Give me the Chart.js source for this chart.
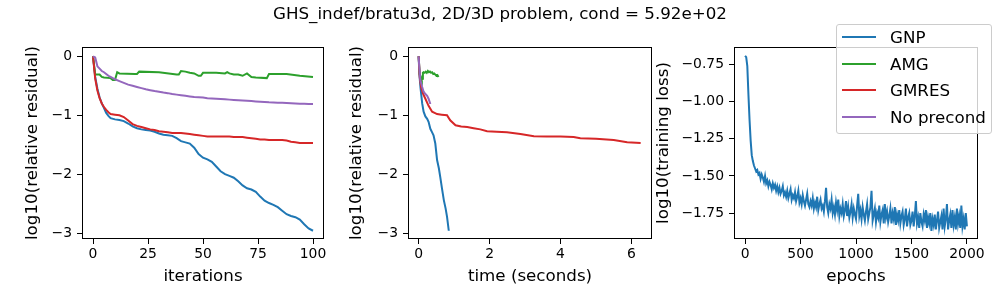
<!DOCTYPE html>
<html>
<head>
<meta charset="utf-8">
<script src="https://cdn.jsdelivr.net/npm/chart.js@4"></script>
<style>
  body { margin: 0; background: #fff; }
  #wrap { position: relative; width: 1000px; height: 300px; overflow: hidden; font-family: "DejaVu Sans", sans-serif; color: #000; }
  canvas { position: absolute; top: 0; }
  #title { position: absolute; left: 0; top: 3px; width: 1000px; text-align: center; font-size: 16.7px; line-height: 20px; }
  #legend { position: absolute; left: 836px; top: 24px; width: 154px; height: 108px; border: 1px solid #ccc; border-radius: 3px; background: rgba(255,255,255,0.8); }
  .row { position: absolute; left: 0; height: 26px; line-height: 26px; font-size: 16.7px; white-space: nowrap; }
  .swatch { position: absolute; left: 5px; top: 12px; width: 34px; height: 2px; }
  .lab { position: absolute; left: 53px; }
</style>
</head>
<body>
<div id="wrap">
  <canvas id="c1" width="333" height="300" style="left:0px"></canvas>
  <canvas id="c2" width="322" height="300" style="left:333px"></canvas>
  <canvas id="c3" width="350" height="300" style="left:650px"></canvas>
  <div id="title">GHS_indef/bratu3d, 2D/3D problem, cond = 5.92e+02</div>
  <div id="legend"></div>
</div>
<script>
// series names + colours (matplotlib tab10)
const seriesNames = ["GNP", "AMG", "GMRES", "No precond"];
const seriesColors = ["#1f77b4", "#2ca02c", "#d62728", "#9467bd"];

// panel 1: residual vs iterations
const iters = [0,1,2,3,4,5,6,7,8,10,12,14,16,18,20,22,24,26,28,30,32,34,36,38,40,42,44,46,48,50,52,54,56,58,60,62,64,66,68,70,72,74,76,78,80,82,84,86,88,90,92,94,96,98,100];
const gnpByIter = [0,-0.35,-0.55,-0.70,-0.80,-0.88,-0.96,-1.01,-1.05,-1.07,-1.08,-1.10,-1.14,-1.19,-1.22,-1.24,-1.25,-1.26,-1.28,-1.31,-1.33,-1.34,-1.35,-1.39,-1.44,-1.46,-1.48,-1.55,-1.66,-1.72,-1.75,-1.79,-1.87,-1.95,-2.00,-2.03,-2.06,-2.12,-2.19,-2.24,-2.26,-2.30,-2.38,-2.45,-2.49,-2.52,-2.56,-2.62,-2.68,-2.71,-2.73,-2.77,-2.85,-2.92,-2.96];
const gmresByIter = [0,-0.38,-0.58,-0.71,-0.80,-0.86,-0.91,-0.95,-0.98,-0.99,-1.00,-1.03,-1.09,-1.15,-1.18,-1.20,-1.22,-1.24,-1.25,-1.27,-1.28,-1.29,-1.30,-1.30,-1.30,-1.31,-1.32,-1.33,-1.34,-1.35,-1.36,-1.36,-1.36,-1.36,-1.36,-1.36,-1.37,-1.37,-1.37,-1.38,-1.39,-1.40,-1.41,-1.41,-1.42,-1.42,-1.42,-1.42,-1.43,-1.45,-1.46,-1.47,-1.47,-1.47,-1.47];
const noPrecByIter = [0,-0.02,-0.17,-0.21,-0.25,-0.27,-0.30,-0.33,-0.35,-0.39,-0.42,-0.45,-0.48,-0.50,-0.52,-0.54,-0.56,-0.575,-0.59,-0.60,-0.615,-0.625,-0.64,-0.65,-0.66,-0.67,-0.68,-0.69,-0.695,-0.70,-0.71,-0.715,-0.72,-0.725,-0.73,-0.735,-0.74,-0.745,-0.75,-0.755,-0.76,-0.765,-0.77,-0.775,-0.78,-0.783,-0.786,-0.79,-0.794,-0.797,-0.80,-0.803,-0.806,-0.81,-0.81];
const amgIters = [0,1,3,4,5,8,9,10,11,12,19,20,21,30,38,39,40,42,44,46,48,49,50,56,60,61,62,64,66,68,70,72,74,79,80,88,94,100];
const amgByIter = [0,-0.31,-0.31,-0.35,-0.36,-0.37,-0.40,-0.40,-0.27,-0.29,-0.30,-0.30,-0.26,-0.27,-0.31,-0.31,-0.25,-0.26,-0.28,-0.29,-0.33,-0.33,-0.28,-0.28,-0.29,-0.27,-0.29,-0.31,-0.31,-0.33,-0.29,-0.35,-0.36,-0.37,-0.30,-0.30,-0.33,-0.35];

// panel 2: residual vs wall time (s)
const gnpTime = [0,0.02,0.05,0.10,0.14,0.19,0.24,0.28,0.33,0.38,0.42,0.47,0.52,0.57,0.61,0.66,0.71,0.76,0.80,0.85];
const gnpByTime = [0,-0.30,-0.52,-0.80,-0.94,-1.02,-1.06,-1.11,-1.23,-1.29,-1.34,-1.48,-1.76,-1.90,-2.05,-2.25,-2.44,-2.58,-2.72,-2.96];
const amgTime = [0,0.03,0.05,0.07,0.09,0.10,0.12,0.14,0.17,0.20,0.23,0.26,0.29,0.32,0.35,0.38,0.41,0.44,0.47,0.50,0.53,0.56];
const amgByTime = [0,-0.31,-0.33,-0.36,-0.40,-0.38,-0.28,-0.27,-0.28,-0.26,-0.28,-0.25,-0.27,-0.26,-0.28,-0.27,-0.30,-0.29,-0.31,-0.33,-0.32,-0.35];
const gmresTime = [0,0.03,0.07,0.12,0.19,0.28,0.38,0.52,0.65,0.80,0.89,1.04,1.2,1.37,1.55,1.74,1.93,2.2,2.49,2.87,3.25,3.6,4.0,4.37,4.56,5.0,5.5,5.88,6.26];
const gmresByTime = [0,-0.35,-0.52,-0.63,-0.72,-0.84,-0.94,-0.98,-0.99,-1.00,-1.085,-1.17,-1.19,-1.20,-1.22,-1.24,-1.27,-1.28,-1.29,-1.32,-1.356,-1.36,-1.36,-1.37,-1.39,-1.40,-1.42,-1.46,-1.47];
const noPrecTime = [0,0.02,0.05,0.10,0.14,0.19,0.24,0.28,0.33];
const noPrecByTime = [0,-0.20,-0.41,-0.52,-0.60,-0.64,-0.67,-0.72,-0.81];

// panel 3: GNP training loss, every 10 epochs
const epochs = [
  0,10,20,30,40,50,60,70,80,90,
  100,110,120,130,140,150,160,170,180,190,
  200,210,220,230,240,250,260,270,280,290,
  300,310,320,330,340,350,360,370,380,390,
  400,410,420,430,440,450,460,470,480,490,
  500,510,520,530,540,550,560,570,580,590,
  600,610,620,630,640,650,660,670,680,690,
  700,710,720,730,740,750,760,770,780,790,
  800,810,820,830,840,850,860,870,880,890,
  900,910,920,930,940,950,960,970,980,990,
  1000,1010,1020,1030,1040,1050,1060,1070,1080,1090,
  1100,1110,1120,1130,1140,1150,1160,1170,1180,1190,
  1200,1210,1220,1230,1240,1250,1260,1270,1280,1290,
  1300,1310,1320,1330,1340,1350,1360,1370,1380,1390,
  1400,1410,1420,1430,1440,1450,1460,1470,1480,1490,
  1500,1510,1520,1530,1540,1550,1560,1570,1580,1590,
  1600,1610,1620,1630,1640,1650,1660,1670,1680,1690,
  1700,1710,1720,1730,1740,1750,1760,1770,1780,1790,
  1800,1810,1820,1830,1840,1850,1860,1870,1880,1890,
  1900,1910,1920,1930,1940,1950,1960,1970,1980,1990,
  2000];
const trainLoss = [
  -0.69,-0.70,-0.76,-0.95,-1.12,-1.26,-1.36,-1.40,-1.43,-1.45,
  -1.47,-1.46,-1.49,-1.48,-1.52,-1.49,-1.51,-1.54,-1.50,-1.55,
  -1.53,-1.57,-1.54,-1.56,-1.59,-1.55,-1.58,-1.56,-1.60,-1.57,
  -1.61,-1.58,-1.62,-1.60,-1.57,-1.63,-1.61,-1.64,-1.60,-1.65,
  -1.62,-1.59,-1.66,-1.63,-1.65,-1.61,-1.67,-1.64,-1.60,-1.68,
  -1.65,-1.69,-1.63,-1.67,-1.70,-1.66,-1.62,-1.69,-1.71,-1.67,
  -1.70,-1.65,-1.72,-1.68,-1.71,-1.64,-1.73,-1.69,-1.66,-1.72,
  -1.70,-1.74,-1.67,-1.58,-1.71,-1.75,-1.69,-1.72,-1.66,-1.75,
  -1.71,-1.76,-1.68,-1.73,-1.66,-1.77,-1.72,-1.75,-1.69,-1.77,
  -1.73,-1.67,-1.77,-1.71,-1.78,-1.74,-1.69,-1.78,-1.72,-1.76,
  -1.79,-1.70,-1.62,-1.77,-1.73,-1.79,-1.71,-1.76,-1.80,-1.74,
  -1.69,-1.79,-1.75,-1.71,-1.60,-1.80,-1.76,-1.72,-1.81,-1.75,
  -1.78,-1.70,-1.81,-1.76,-1.73,-1.82,-1.69,-1.78,-1.74,-1.81,
  -1.77,-1.72,-1.82,-1.75,-1.79,-1.71,-1.83,-1.76,-1.80,-1.73,
  -1.82,-1.77,-1.74,-1.83,-1.79,-1.72,-1.84,-1.78,-1.75,-1.83,
  -1.80,-1.74,-1.84,-1.77,-1.67,-1.82,-1.78,-1.85,-1.75,-1.81,
  -1.84,-1.76,-1.80,-1.73,-1.85,-1.78,-1.82,-1.75,-1.87,-1.79,
  -1.83,-1.76,-1.86,-1.80,-1.74,-1.85,-1.81,-1.77,-1.86,-1.72,
  -1.84,-1.79,-1.69,-1.86,-1.80,-1.76,-1.85,-1.73,-1.83,-1.78,
  -1.86,-1.72,-1.82,-1.77,-1.85,-1.70,-1.84,-1.79,-1.86,-1.75,
  -1.84];

// axis ticks
const resTicks = [0, -1, -2, -3];
const iterTicks = [0, 25, 50, 75, 100];
const timeTicks = [0, 2, 4, 6];
const lossTicks = [-0.75, -1.00, -1.25, -1.50, -1.75];
const epochTicks = [0, 500, 1000, 1500, 2000];

Chart.defaults.font.family = "'DejaVu Sans', sans-serif";
Chart.defaults.color = "#000";

const tickFont = { family: "'DejaVu Sans', sans-serif", size: 13.9 };
const labelFont = { family: "'DejaVu Sans', sans-serif", size: 16.7 };
const minus = (s) => String(s).replace("-", "\u2212");

function pts(xs, ys) {
  return xs.map((x, i) => ({ x: x, y: ys[i] }));
}

function line(idx, xs, ys) {
  return {
    label: seriesNames[idx],
    data: pts(xs, ys),
    borderColor: seriesColors[idx],
    backgroundColor: seriesColors[idx],
    fill: false,
    order: 3 - idx, // later series on top, like matplotlib
  };
}

// black frame around the plot area
const frameBox = {
  id: "frameBox",
  afterDraw(chart) {
    const { ctx, chartArea: a } = chart;
    ctx.save();
    ctx.strokeStyle = "#000";
    ctx.lineWidth = 1;
    ctx.strokeRect(a.left + 0.5, a.top + 0.5, a.right - a.left - 1, a.bottom - a.top - 1);
    ctx.restore();
  },
};

function axis(o) {
  return {
    type: "linear",
    min: o.min,
    max: o.max,
    afterBuildTicks: (s) => { s.ticks = o.ticks.map((v) => ({ value: v })); },
    afterFit: o.fit,
    ticks: {
      font: tickFont,
      color: "#000",
      padding: o.pad,
      autoSkip: false,
      maxRotation: 0,
      callback: o.fmt,
    },
    grid: { drawOnChartArea: false, drawTicks: true, tickLength: 5, color: "#000", lineWidth: 1 },
    border: { display: false },
    title: { display: true, text: o.title, font: labelFont, color: "#000", padding: o.titlePad },
  };
}

function buildPanel(id, p) {
  const ctx = document.getElementById(id).getContext("2d");
  return new Chart(ctx, {
    type: "line",
    data: { datasets: p.datasets },
    options: {
      responsive: false,
      animation: false,
      events: [],
      layout: { padding: { top: 47, right: p.padRight, left: 0, bottom: 0 } },
      elements: { point: { radius: 0 }, line: { borderWidth: 2, tension: 0 } },
      plugins: { legend: { display: false }, tooltip: { enabled: false } },
      scales: {
        x: axis({
          min: p.xMin, max: p.xMax, ticks: p.xTicks, pad: 2,
          fmt: (v) => minus(v), title: p.xTitle,
          titlePad: { top: 0, bottom: 13.5 },
          fit: (s) => { s.height = 61; },
        }),
        y: axis({
          min: p.yMin, max: p.yMax, ticks: p.yTicks, pad: 5,
          fmt: p.yFmt || ((v) => minus(v)), title: p.yTitle,
          titlePad: { top: p.yTitlePad, bottom: 0 },
          fit: (s) => { s.width = p.yWidth; },
        }),
      },
    },
    plugins: [frameBox],
  });
}

buildPanel("c1", {
  datasets: [
    line(0, iters, gnpByIter),
    line(1, amgIters, amgByIter),
    line(2, iters, gmresByIter),
    line(3, iters, noPrecByIter),
  ],
  xMin: -5, xMax: 105, xTicks: iterTicks, xTitle: "iterations",
  yMin: -3.10, yMax: 0.158, yTicks: resTicks, yTitle: "log10(relative residual)",
  yWidth: 82, padRight: 9, yTitlePad: 22.4,
});

buildPanel("c2", {
  datasets: [
    line(0, gnpTime, gnpByTime),
    line(1, amgTime, amgByTime),
    line(2, gmresTime, gmresByTime),
    line(3, noPrecTime, noPrecByTime),
  ],
  xMin: -0.30, xMax: 6.58, xTicks: timeTicks, xTitle: "time (seconds)",
  yMin: -3.10, yMax: 0.158, yTicks: resTicks, yTitle: "log10(relative residual)",
  yWidth: 75, padRight: 3, yTitlePad: 13.7,
});

buildPanel("c3", {
  datasets: [line(0, epochs, trainLoss)],
  xMin: -100, xMax: 2100, xTicks: epochTicks, xTitle: "epochs",
  yMin: -1.925, yMax: -0.631, yTicks: lossTicks, yTitle: "log10(training loss)",
  yFmt: (v) => minus(v.toFixed(2)),
  yWidth: 84, padRight: 22, yTitlePad: 4,
});

// legend box (upper right, overlapping last panel)
const legend = document.getElementById("legend");
seriesNames.forEach((name, i) => {
  const row = document.createElement("div");
  row.className = "row";
  row.style.top = (12.3 + i * 26.47 - 13) + "px";
  row.style.width = "154px";
  row.innerHTML = '<span class="swatch" style="background:' + seriesColors[i] + '"></span><span class="lab">' + name + "</span>";
  legend.appendChild(row);
});
</script>
</body>
</html>
